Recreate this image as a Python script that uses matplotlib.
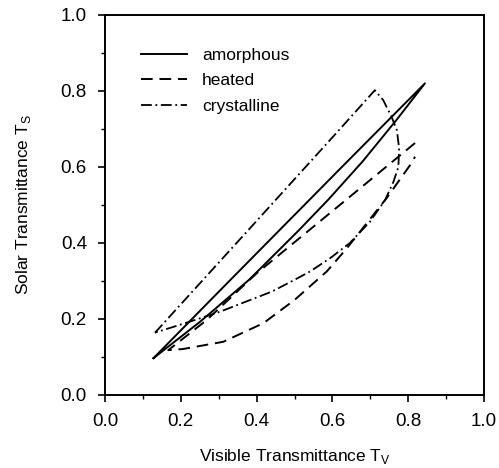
import matplotlib
matplotlib.use("Agg")
import matplotlib.pyplot as plt
from matplotlib.ticker import MultipleLocator

plt.rcParams['font.family'] = ['Liberation Sans', 'DejaVu Sans']

# amorphous: upper and lower branch of the loop
amorph_x = [0.128, 0.33, 0.62, 0.844, 0.77, 0.68, 0.59, 0.51, 0.38, 0.25, 0.128]
amorph_y = [0.097, 0.302, 0.595, 0.820, 0.725, 0.615, 0.515, 0.432, 0.303, 0.192, 0.097]

# heated
heated_x = [0.818, 0.70, 0.55, 0.40, 0.268, 0.167, 0.206, 0.312, 0.418,
            0.50, 0.585, 0.638, 0.743, 0.805, 0.818]
heated_y = [0.663, 0.566, 0.443, 0.320, 0.197, 0.118, 0.121, 0.140, 0.189,
            0.250, 0.325, 0.386, 0.518, 0.605, 0.627]

# crystalline
cryst_x = [0.132, 0.40, 0.611, 0.712, 0.734, 0.756, 0.770, 0.776, 0.774,
           0.761, 0.739, 0.699, 0.646, 0.594, 0.541, 0.50, 0.44, 0.383,
           0.303, 0.224, 0.132]
cryst_y = [0.164, 0.458, 0.690, 0.802, 0.776, 0.732, 0.697, 0.649, 0.600,
           0.561, 0.513, 0.456, 0.400, 0.360, 0.325, 0.303, 0.272, 0.250,
           0.219, 0.193, 0.164]

fig = plt.figure(figsize=(4.99, 4.68), dpi=100)
ax = fig.add_axes([0.2104, 0.156, 0.7596, 0.812])

ax.plot(amorph_x, amorph_y, color='black', lw=1.4, ls='-', label='amorphous')
ax.plot(heated_x, heated_y, color='black', lw=1.4, ls=(0, (6, 3.5)), label='heated')
ax.plot(cryst_x, cryst_y, color='black', lw=1.3, ls=(0, (6, 2, 1, 2)), label='crystalline')

ax.set_xlim(0, 1)
ax.set_ylim(0, 1)
ax.xaxis.set_major_locator(MultipleLocator(0.2))
ax.xaxis.set_minor_locator(MultipleLocator(0.1))
ax.yaxis.set_major_locator(MultipleLocator(0.2))
ax.yaxis.set_minor_locator(MultipleLocator(0.1))
ax.xaxis.set_major_formatter(plt.FormatStrFormatter('%.1f'))
ax.yaxis.set_major_formatter(plt.FormatStrFormatter('%.1f'))
ax.tick_params(which='major', direction='out', length=5, width=1.2, labelsize=13.5)
ax.tick_params(axis='x', which='major', pad=8)
ax.tick_params(axis='y', which='major', pad=8)
ax.tick_params(which='minor', direction='out', length=3, width=1)
ax.tick_params(top=False, right=False)
for s in ax.spines.values():
    s.set_linewidth(1.4)

ax.set_xlabel('Visible Transmittance T$_\\mathregular{V}$', fontsize=12.5, labelpad=12)
ax.set_ylabel('Solar Transmittance T$_\\mathregular{S}$', fontsize=12.5, labelpad=20)

ax.legend(loc='upper left', bbox_to_anchor=(0.055, 0.955), frameon=False, fontsize=12.5,
          handlelength=2.6, handletextpad=0.9, labelspacing=0.6)

fig.savefig('out.png', dpi=100)
